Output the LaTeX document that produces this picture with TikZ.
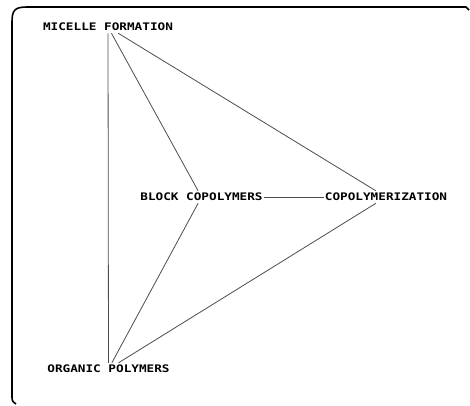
\documentclass[tikz,border=0pt]{standalone}
\usepackage{fontspec}
\newfontfamily\pixfont[FakeStretch=1.22]{DejaVu Sans Mono}

\tikzset{
    term/.style={font=\pixfont\bfseries\fontsize{10.4}{11}\selectfont, text height=7.5pt, text depth=0pt, inner ysep=2.3pt, inner xsep=1pt},
    link/.style={draw=black!70, line width=0.8pt},
    frame/.style={draw=black, line width=1.6pt}
}

\begin{document}
\begin{tikzpicture}[x=1pt, y=-1pt]
    \useasboundingbox (0,0) rectangle (470,405);

    % Draw Frame (top and left edges only)
    \draw[frame] (16,404) .. controls (12,401) .. (12,395) -- (12,22)
        .. controls (12,10) and (15,7) .. (27,7) -- (466,7) -- (469,10);

    % Place Terms
    \node[term] (micelle) at (108,27) {MICELLE FORMATION};
    \node[term] (block) at (201.5,197) {BLOCK COPOLYMERS};
    \node[term] (copoly) at (386,197) {COPOLYMERIZATION};
    \node[term] (organic) at (108.5,369) {ORGANIC POLYMERS};

    % Draw Links between Terms
    \draw[link] (micelle) -- (organic);
    \draw[link] (micelle) -- (block);
    \draw[link] (micelle) -- (copoly);
    \draw[link] (block) -- (copoly);
    \draw[link] (organic) -- (block);
    \draw[link] (organic) -- (copoly);
\end{tikzpicture}
\end{document}
